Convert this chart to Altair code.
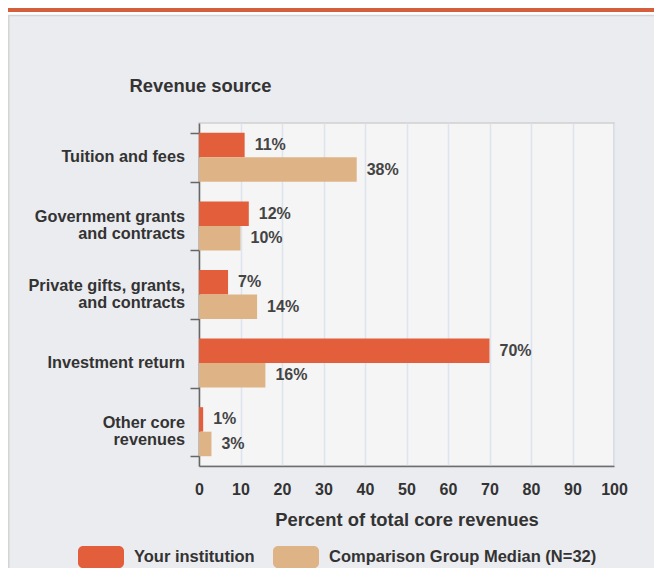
import altair as alt
import pandas as pd

# ---- data ----
categories = [
    "Tuition and fees",
    "Government grants|and contracts",
    "Private gifts, grants,|and contracts",
    "Investment return",
    "Other core|revenues",
]
your_institution = [11, 12, 7, 70, 1]
comparison_median = [38, 10, 14, 16, 3]
series_names = ["Your institution", "Comparison Group Median (N=32)"]
series_colors = ["#E35F3C", "#DEB386"]
x_ticks = [0, 10, 20, 30, 40, 50, 60, 70, 80, 90, 100]

rows = []
for i, c in enumerate(categories):
    rows.append({"category": c, "series": series_names[0], "value": your_institution[i]})
    rows.append({"category": c, "series": series_names[1], "value": comparison_median[i]})
df = pd.DataFrame(rows)
df["label"] = df["value"].astype(str) + "%"
cat_df = pd.DataFrame({"category": categories})

W, H = 415, 343
PAD_L, PAD_T, PAD_R, PAD_B = 191, 115, 40, 102
FONT = "Liberation Sans"
TXT = "#333333"

legend_path = (
    "M-0.78,-0.478 L0.78,-0.478 A0.22,0.22 0 0 1 1,-0.258 L1,0.258 "
    "A0.22,0.22 0 0 1 0.78,0.478 L-0.78,0.478 A0.22,0.22 0 0 1 -1,0.258 "
    "L-1,-0.258 A0.22,0.22 0 0 1 -0.78,-0.478 Z"
)

y_enc = alt.Y(
    "category:N",
    sort=categories,
    scale=alt.Scale(paddingInner=0.285, paddingOuter=0.1425),
    axis=alt.Axis(
        title="Revenue source",
        titleAngle=0,
        titleX=-70,
        titleY=-31.5,
        titleAlign="left",
        titleBaseline="alphabetic",
        titleFontSize=18.4,
        titleFontWeight="bold",
        titleColor=TXT,
        labels=False,
        tickSize=9,
        tickBand="extent",
        tickColor="#666666",
        tickWidth=1.5,
        domainColor="#666666",
        domainWidth=1.5,
        grid=False,
    ),
)

yoff_enc = alt.YOffset(
    "series:N", sort=series_names, scale=alt.Scale(paddingInner=0, paddingOuter=0)
)

x_enc = alt.X(
    "value:Q",
    scale=alt.Scale(domain=[0, 100], nice=False),
    axis=alt.Axis(
        values=x_ticks,
        title="Percent of total core revenues",
        grid=True,
        gridColor="#DCE4EE",
        gridWidth=1.5,
        ticks=False,
        tickSize=0,
        labelPadding=15,
        labelFontSize=16,
        labelFontWeight="bold",
        labelColor=TXT,
        labelFlush=False,
        titleFontSize=18.4,
        titleFontWeight="bold",
        titleColor=TXT,
        titlePadding=13,
        domainColor="#6E6E6E",
        domainWidth=1.5,
    ),
)

one = alt.Data(values=[{"k": 1}])

top_bar = alt.Chart(one).mark_rect(color="#D35F3D").encode(
    x=alt.value(-PAD_L), x2=alt.value(W + PAD_R), y=alt.value(-PAD_T), y2=alt.value(-PAD_T + 4)
)
white_strip = alt.Chart(one).mark_rect(color="#FFFFFF").encode(
    x=alt.value(-PAD_L), x2=alt.value(W + PAD_R), y=alt.value(-PAD_T + 4), y2=alt.value(-PAD_T + 7)
)
top_border = alt.Chart(one).mark_rule(color="#D4D4D4", strokeWidth=1.5).encode(
    x=alt.value(-PAD_L), x2=alt.value(W + PAD_R), y=alt.value(-PAD_T + 7.5)
)
left_border = alt.Chart(one).mark_rule(color="#D4D4D4", strokeWidth=1.5).encode(
    x=alt.value(-PAD_L + 0.75), y=alt.value(-PAD_T + 7), y2=alt.value(H + PAD_B)
)

bars = alt.Chart(df).mark_bar().encode(
    x=x_enc,
    y=y_enc,
    yOffset=yoff_enc,
    color=alt.Color(
        "series:N",
        scale=alt.Scale(domain=series_names, range=series_colors),
        legend=alt.Legend(
            title=None,
            orient="none",
            legendX=-121,
            legendY=411,
            direction="horizontal",
            symbolType=legend_path,
            symbolSize=2116,
            symbolStrokeWidth=0,
            symbolOpacity=1,
            labelFontSize=16.5,
            labelFontWeight="bold",
            labelColor=TXT,
            labelFont=FONT,
            labelOffset=10,
            columnPadding=18,
            padding=0,
            labelLimit=400,
        ),
    ),
)

labels = alt.Chart(df).mark_text(
    align="left", baseline="middle", dx=10, fontSize=16, fontWeight="bold", color="#444444"
).encode(
    x="value:Q",
    y=alt.Y("category:N", sort=categories),
    yOffset=alt.YOffset("series:N", sort=series_names),
    text="label:N",
)

cat_one = alt.Chart(cat_df).transform_filter(
    "indexof(datum.category, '|') < 0"
).mark_text(
    align="right", baseline="middle", fontSize=16.3, fontWeight="bold", color=TXT
).encode(
    x=alt.value(-14),
    y=alt.Y("category:N", sort=categories),
    text="category:N",
)

cat_two = alt.Chart(cat_df).transform_filter(
    "indexof(datum.category, '|') >= 0"
).mark_text(
    align="right", baseline="line-bottom", lineBreak="|", lineHeight=17,
    fontSize=16.3, fontWeight="bold", color=TXT,
).encode(
    x=alt.value(-14),
    y=alt.Y("category:N", sort=categories),
    text="category:N",
)

chart = (
    alt.layer(top_bar, white_strip, top_border, left_border, bars, labels, cat_one, cat_two)
    .properties(
        width=W,
        height=H,
        padding={"left": PAD_L, "top": PAD_T, "right": PAD_R, "bottom": PAD_B},
        autosize=alt.AutoSizeParams(type="none"),
    )
    .configure(background="#EBECF0", font=FONT)
    .configure_view(fill="#F5F5F5", stroke="#CFCFCF", strokeWidth=1.5)
)

chart.save("out.html", embed_options={"renderer": "svg", "actions": False})
